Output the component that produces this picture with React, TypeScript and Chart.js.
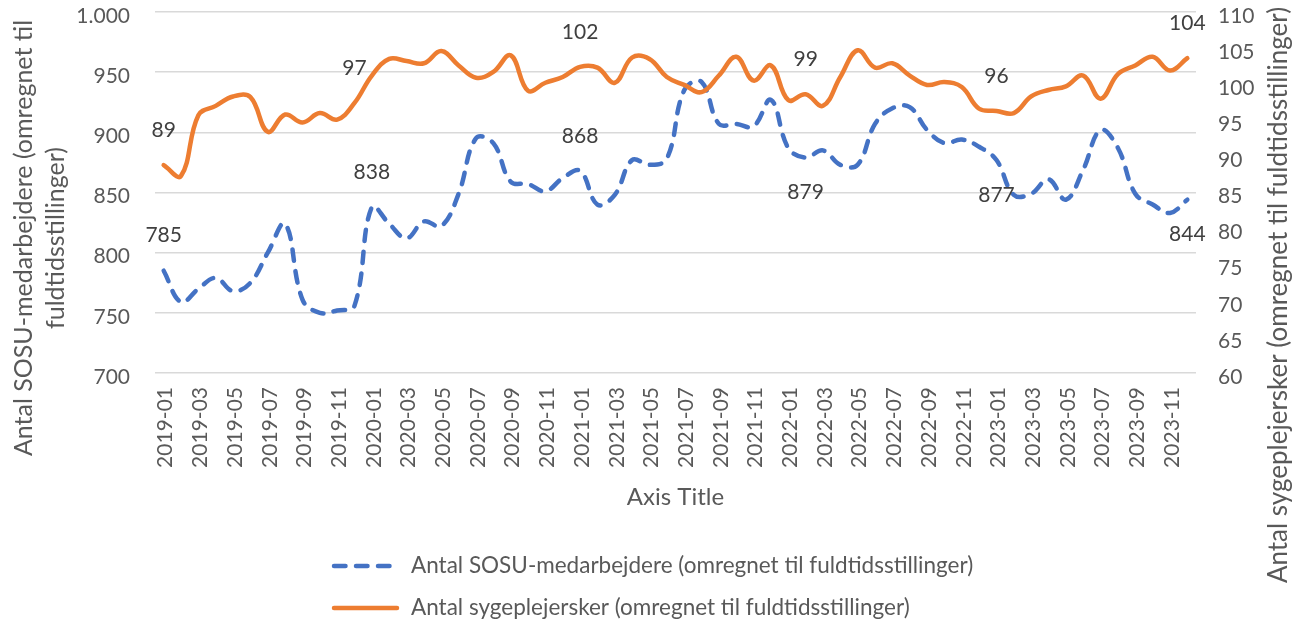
import React, { useEffect, useRef } from "react";
import { Chart, registerables } from "chart.js";

Chart.register(...registerables);

// ---------- data ----------
const months: string[] = [
  "2019-01", "2019-02", "2019-03", "2019-04", "2019-05", "2019-06", "2019-07", "2019-08", "2019-09", "2019-10", "2019-11", "2019-12",
  "2020-01", "2020-02", "2020-03", "2020-04", "2020-05", "2020-06", "2020-07", "2020-08", "2020-09", "2020-10", "2020-11", "2020-12",
  "2021-01", "2021-02", "2021-03", "2021-04", "2021-05", "2021-06", "2021-07", "2021-08", "2021-09", "2021-10", "2021-11", "2021-12",
  "2022-01", "2022-02", "2022-03", "2022-04", "2022-05", "2022-06", "2022-07", "2022-08", "2022-09", "2022-10", "2022-11", "2022-12",
  "2023-01", "2023-02", "2023-03", "2023-04", "2023-05", "2023-06", "2023-07", "2023-08", "2023-09", "2023-10", "2023-11", "2023-12",
];

const sosuValues: number[] = [
  785, 759, 770, 779, 768, 775, 800, 824, 761, 750, 752, 756,
  838, 824, 812, 826, 822, 849, 895, 891, 859, 857, 851, 862,
  868, 840, 848, 877, 873, 878, 935, 942, 907, 907, 905, 927,
  887, 879, 885, 873, 873, 907, 920, 921, 902, 891, 894, 888,
  877, 848, 849, 861, 844, 869, 902, 887, 849, 840, 833, 844,
];

const nurseValues: number[] = [
  88.8, 87.3, 95.7, 97.0, 98.3, 98.2, 93.4, 95.8, 94.7, 96.0, 95.1, 97.4,
  101.2, 103.5, 103.2, 102.9, 104.6, 102.6, 100.9, 101.7, 104.0, 99.1, 100.2, 101.0,
  102.4, 102.3, 100.2, 103.7, 103.5, 101.0, 99.9, 98.9, 101.2, 103.8, 100.5, 102.6,
  97.8, 98.6, 97.0, 101.0, 104.7, 102.3, 102.9, 101.2, 99.9, 100.3, 99.6, 96.6,
  96.3, 96.0, 98.3, 99.2, 99.7, 101.2, 98.0, 101.4, 102.6, 103.8, 101.9, 103.6,
];

const sosuLabelIndex: number[] = [0, 12, 24, 37, 48, 59];
const sosuLabelSide: string[] = ["above", "above", "above", "below", "below", "below"];
const nurseLabelIndex: number[] = [0, 11, 24, 37, 48, 59];
const nurseLabelSide: string[] = ["above", "above", "above", "above", "above", "above"];

const sosuName = "Antal SOSU-medarbejdere (omregnet til fuldtidsstillinger)";
const nurseName = "Antal sygeplejersker (omregnet til fuldtidsstillinger)";
const leftTitleLines: string[] = ["Antal SOSU-medarbejdere (omregnet til", "fuldtidsstillinger)"];
const rightTitle = nurseName;
const xTitle = "Axis Title";

const leftMin = 700, leftMax = 1000, leftStep = 50;
const rightMin = 60, rightMax = 110, rightStep = 5;

// ---------- style ----------
const FONT = "Lato";
const BLUE = "#4472C4";
const ORANGE = "#ED7D31";
const TEXT = "#595959";
const LABEL = "#404040";
const DASH = [11.5, 10.5];
const AREA_TOP = 12;
const AREA_BOTTOM = 373;

function fmtThousands(v: number): string {
  const s = String(Math.round(v));
  return s.replace(/\B(?=(\d{3})+(?!\d))/g, ".");
}

const overlayPlugin = {
  id: "overlay",
  afterDatasetsDraw(chart: any) {
    const ctx = chart.ctx as CanvasRenderingContext2D;
    ctx.save();
    ctx.font = `21px ${FONT}`;
    ctx.fillStyle = LABEL;
    ctx.textAlign = "center";
    ctx.textBaseline = "middle";
    const off = 35;
    const m0 = chart.getDatasetMeta(0);
    sosuLabelIndex.forEach((idx, k) => {
      const p = m0.data[idx];
      const dy = sosuLabelSide[k] === "above" ? -off : off;
      ctx.fillText(String(Math.round(sosuValues[idx])), p.x, p.y + dy);
    });
    const m1 = chart.getDatasetMeta(1);
    nurseLabelIndex.forEach((idx, k) => {
      const p = m1.data[idx];
      const dy = nurseLabelSide[k] === "above" ? -off : off;
      ctx.fillText(String(Math.round(nurseValues[idx])), p.x, p.y + dy);
    });
    ctx.restore();
  },
  afterDraw(chart: any) {
    const ctx = chart.ctx as CanvasRenderingContext2D;
    const ca = chart.chartArea;
    ctx.save();
    ctx.fillStyle = TEXT;
    ctx.textAlign = "center";
    ctx.textBaseline = "middle";

    // x axis title
    ctx.font = `24px ${FONT}`;
    ctx.fillText(xTitle, (ca.left + ca.right) / 2, 497);

    // left title (rotated)
    ctx.font = `25px ${FONT}`;
    ctx.save();
    ctx.translate(24, 238);
    ctx.rotate(-Math.PI / 2);
    ctx.fillText(leftTitleLines[0], 0, 0);
    ctx.fillText(leftTitleLines[1], 0, 32);
    ctx.restore();

    // right title
    ctx.font = `26px ${FONT}`;
    ctx.save();
    ctx.translate(1279, 295);
    ctx.rotate(-Math.PI / 2);
    ctx.fillText(rightTitle, 0, 0);
    ctx.restore();

    // legend
    ctx.font = `22.5px ${FONT}`;
    ctx.textAlign = "left";
    const rows = [
      { y: 566, color: BLUE, dash: DASH, name: sosuName },
      { y: 608, color: ORANGE, dash: [] as number[], name: nurseName },
    ];
    rows.forEach((r) => {
      ctx.save();
      ctx.strokeStyle = r.color;
      ctx.lineWidth = 4.5;
      ctx.lineCap = "round";
      ctx.setLineDash(r.dash);
      ctx.beginPath();
      ctx.moveTo(334, r.y);
      ctx.lineTo(397, r.y);
      ctx.stroke();
      ctx.restore();
      ctx.fillText(r.name, 411, r.y);
    });
    ctx.restore();
  },
};

export default function App() {
  const ref = useRef<HTMLCanvasElement | null>(null);

  useEffect(() => {
    if (!ref.current) return;
    const chart = new Chart(ref.current, {
      type: "line",
      data: {
        labels: months,
        datasets: [
          {
            label: sosuName,
            data: sosuValues,
            yAxisID: "y",
            borderColor: BLUE,
            backgroundColor: BLUE,
            borderWidth: 4.5,
            borderDash: DASH,
            borderCapStyle: "round",
            borderJoinStyle: "round",
            pointRadius: 0,
            tension: 0.4,
            fill: false,
            order: 1,
          },
          {
            label: nurseName,
            data: nurseValues,
            yAxisID: "y1",
            borderColor: ORANGE,
            backgroundColor: ORANGE,
            borderWidth: 4.5,
            borderCapStyle: "round",
            borderJoinStyle: "round",
            pointRadius: 0,
            tension: 0.4,
            fill: false,
            order: 0,
          },
        ],
      },
      options: {
        responsive: false,
        animation: false,
        devicePixelRatio: 1,
        layout: { padding: { top: AREA_TOP, left: 0, right: 0, bottom: 0 } },
        plugins: {
          legend: { display: false },
          tooltip: { enabled: false },
          title: { display: false },
        },
        scales: {
          x: {
            type: "category",
            offset: true,
            grid: { display: false, drawTicks: false },
            border: { display: false },
            ticks: {
              autoSkip: false,
              maxRotation: 90,
              minRotation: 90,
              padding: 14,
              labelOffset: 2,
              color: TEXT,
              font: { family: FONT, size: 21 },
              callback: (_v: any, i: number) => (i % 2 === 0 ? months[i] : ""),
            },
            afterFit: (s: any) => {
              s.height = 622 - AREA_BOTTOM;
              s.paddingLeft = 0;
              s.paddingRight = 0;
            },
          },
          y: {
            position: "left",
            min: leftMin,
            max: leftMax,
            grid: { color: "#D9D9D9", lineWidth: 1.5, drawTicks: false },
            border: { display: false },
            ticks: {
              stepSize: leftStep,
              padding: 25,
              labelOffset: 4,
              color: TEXT,
              font: { family: FONT, size: 21 },
              callback: (v: any) => fmtThousands(Number(v)),
            },
            afterFit: (s: any) => {
              s.width = 155;
              s.paddingTop = 0;
              s.paddingBottom = 0;
            },
          },
          y1: {
            position: "right",
            min: rightMin,
            max: rightMax,
            grid: { display: false, drawOnChartArea: false, drawTicks: false },
            border: { display: false },
            ticks: {
              stepSize: rightStep,
              padding: 22,
              labelOffset: 4,
              color: TEXT,
              font: { family: FONT, size: 21 },
            },
            afterFit: (s: any) => {
              s.width = 112;
              s.paddingTop = 0;
              s.paddingBottom = 0;
            },
          },
        },
      },
      plugins: [overlayPlugin],
    });
    return () => chart.destroy();
  }, []);

  return (
    <div style={{ position: "fixed", left: 0, top: 0, width: 1308, height: 622, background: "#fff" }}>
      <canvas ref={ref} width={1308} height={622} style={{ display: "block" }} />
    </div>
  );
}
